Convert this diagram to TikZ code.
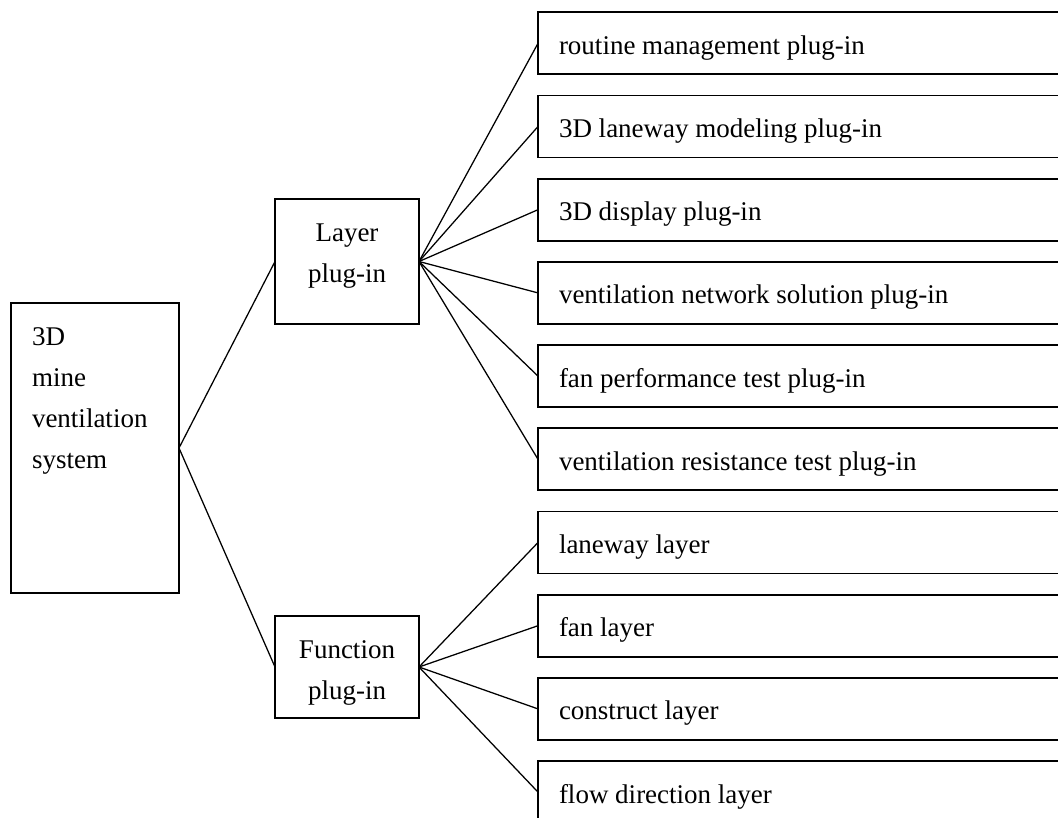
\documentclass[tikz,border=0pt]{standalone}
\usepackage{fontspec}
\setmainfont{Liberation Serif}
\usetikzlibrary{positioning}

% fixed-size text box, text hung from the top
\newcommand{\boxtxt}[4]{\parbox[c][#2][t]{#1}{#3\vspace*{10pt}\strut#4}}
\newcommand{\leaftxt}[1]{\boxtxt{371.25pt}{46.5pt}{}{#1}}

\begin{document}
\begin{tikzpicture}[
    x=0.75pt, y=-0.75pt,
    node distance=15.9pt,
    font=\fontsize{20.25}{30.75}\selectfont,
    box/.style={draw, line width=1.25pt, inner xsep=15.75pt, inner ysep=0pt, outer sep=0pt},
    link/.style={line width=0.95pt}
  ]
    \path[use as bounding box, clip] (0,0) rectangle (1058,818);

    \node[box] (sys) at (95,448) {\boxtxt{94.5pt}{217.5pt}{\raggedright}{3D\\mine\\ventilation\\system}};
    \node[box] (layer) at (347,261.5) {\boxtxt{76.5pt}{93.75pt}{\centering}{Layer\\plug-in}};
    \node[box] (func) at (347,667) {\boxtxt{76.5pt}{76.5pt}{\centering}{Function\\plug-in}};

    % plug-in column, runs off the right edge
    \node[box, anchor=north west] (routine) at (538,12.3) {\leaftxt{routine management plug-in}};
    \node[box, below=of routine] (modeling) {\leaftxt{3D laneway modeling plug-in}};
    \node[box, below=of modeling] (display) {\leaftxt{3D display plug-in}};
    \node[box, below=of display] (network) {\leaftxt{ventilation network solution plug-in}};
    \node[box, below=of network] (fantest) {\leaftxt{fan performance test plug-in}};
    \node[box, below=of fantest] (resist) {\leaftxt{ventilation resistance test plug-in}};
    \node[box, below=of resist] (laneway) {\leaftxt{laneway layer}};
    \node[box, below=of laneway] (fanlayer) {\leaftxt{fan layer}};
    \node[box, below=of fanlayer] (construct) {\leaftxt{construct layer}};
    \node[box, below=of construct] (flow) {\leaftxt{flow direction layer}};

    \draw[link] (sys.east) -- (layer.west);
    \draw[link] (sys.east) -- (func.west);
    \draw[link] (layer.east) -- (routine.west);
    \draw[link] (layer.east) -- (modeling.west);
    \draw[link] (layer.east) -- (display.west);
    \draw[link] (layer.east) -- (network.west);
    \draw[link] (layer.east) -- (fantest.west);
    \draw[link] (layer.east) -- (resist.west);
    \draw[link] (func.east) -- (laneway.west);
    \draw[link] (func.east) -- (fanlayer.west);
    \draw[link] (func.east) -- (construct.west);
    \draw[link] (func.east) -- (flow.west);
  \end{tikzpicture}
\end{document}
